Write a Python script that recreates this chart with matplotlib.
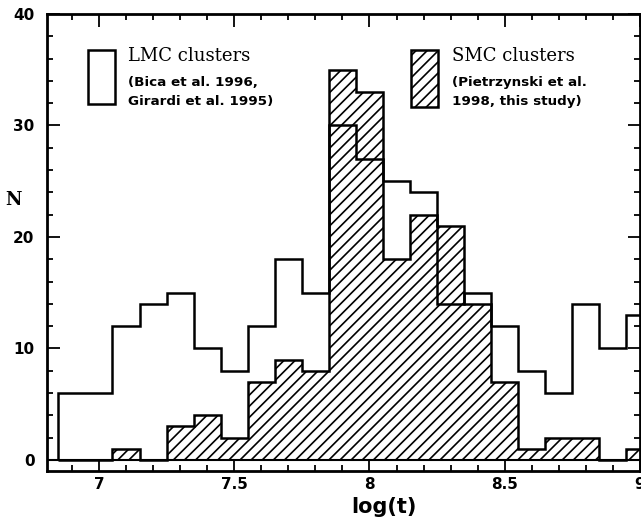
import numpy as np
import matplotlib.pyplot as plt
from matplotlib.patches import Rectangle
from matplotlib.ticker import MultipleLocator

# log(t) bins, width 0.1
bin_edges = [6.85, 6.95, 7.05, 7.15, 7.25, 7.35, 7.45, 7.55, 7.65, 7.75, 7.85, 7.95,
             8.05, 8.15, 8.25, 8.35, 8.45, 8.55, 8.65, 8.75, 8.85, 8.95, 9.05]
lmc_counts = [6, 6, 12, 14, 15, 10, 8, 12, 18, 15, 30, 27, 25, 24, 14, 15, 12, 8, 6, 14, 10, 13]
smc_counts = [0, 0, 1, 0, 3, 4, 2, 7, 9, 8, 35, 33, 18, 22, 21, 14, 7, 1, 2, 2, 0, 1]

x_ticks = [7, 7.5, 8, 8.5, 9]
x_ticklabels = ['7', '7.5', '8', '8.5', '9']
y_ticks = [0, 10, 20, 30, 40]

lmc_label = 'LMC clusters'
lmc_ref = ['(Bica et al. 1996,', 'Girardi et al. 1995)']
smc_label = 'SMC clusters'
smc_ref = ['(Pietrzynski et al.', '1998, this study)']

plt.rcParams['hatch.linewidth'] = 1.2

fig, ax = plt.subplots(figsize=(6.41, 5.30), dpi=100)
plt.subplots_adjust(left=47/641, right=640/641, bottom=59/530, top=516/530)

lw = 1.8
ax.stairs(smc_counts, bin_edges, fill=True, facecolor='white', edgecolor='black',
          hatch='///', linewidth=lw, zorder=2)
ax.stairs(lmc_counts, bin_edges, fill=False, color='black', linewidth=lw,
          baseline=0, zorder=3)
ax.axhline(0, color='black', linewidth=1.5, zorder=3)

ax.set_xlim(6.808, 8.995)
ax.set_ylim(-1, 40)

ax.set_xticks(x_ticks)
ax.set_xticklabels(x_ticklabels)
ax.set_yticks(y_ticks)
ax.xaxis.set_minor_locator(MultipleLocator(0.1))
ax.yaxis.set_minor_locator(MultipleLocator(2))
ax.tick_params(which='both', direction='in', top=True, right=True, width=1.3)
ax.tick_params(which='major', length=9)
ax.tick_params(which='minor', length=4.5)
ax.tick_params(axis='x', which='major', pad=4)
ax.tick_params(axis='y', which='major', pad=9)
for lab in ax.get_xticklabels() + ax.get_yticklabels():
    lab.set_fontfamily('DejaVu Sans')
    lab.set_fontweight('bold')
    lab.set_fontsize(11)
for sp in ax.spines.values():
    sp.set_linewidth(2)

ax.set_xlabel('log(t)', fontsize=15, fontweight='bold', family='DejaVu Sans')
ax.xaxis.set_label_coords(0.568, -0.057)
ax.set_ylabel('N', fontsize=13, fontweight='bold', family='DejaVu Serif', rotation=0,
              va='center', ha='center')
ax.yaxis.set_label_coords(-0.056, 0.593)

# key boxes
ax.add_patch(Rectangle((6.958, 31.9), 0.103, 4.9, facecolor='white', edgecolor='black',
                       linewidth=lw, zorder=4))
ax.add_patch(Rectangle((8.152, 31.7), 0.102, 5.1, facecolor='white', edgecolor='black',
                       hatch='///', linewidth=lw, zorder=4))

ax.text(7.107, 35.75, lmc_label, fontsize=13, family='DejaVu Serif', va='baseline')
ax.text(7.107, 33.5, lmc_ref[0], fontsize=9.7, fontweight='bold', family='DejaVu Sans', va='baseline')
ax.text(7.107, 31.85, lmc_ref[1], fontsize=9.7, fontweight='bold', family='DejaVu Sans', va='baseline')
ax.text(8.305, 35.75, smc_label, fontsize=13, family='DejaVu Serif', va='baseline')
ax.text(8.305, 33.5, smc_ref[0], fontsize=9.7, fontweight='bold', family='DejaVu Sans', va='baseline')
ax.text(8.305, 31.85, smc_ref[1], fontsize=9.7, fontweight='bold', family='DejaVu Sans', va='baseline')

fig.savefig('out.png', dpi=100)
